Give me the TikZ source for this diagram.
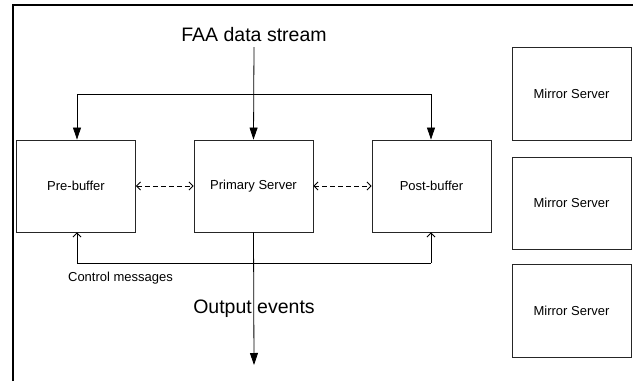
\documentclass[tikz,border=0pt]{standalone}
\usepackage{fontspec}
\setmainfont{Liberation Sans}
\usetikzlibrary{arrows.meta}
\tikzset{
  box/.style={draw=black!85, line width=0.9pt, minimum width=119pt, minimum height=92pt,
    inner sep=0pt, font=\fontsize{13}{15}\selectfont},
  bigtext/.style={font=\fontsize{19.5}{22}\selectfont, inner sep=0pt},
  smalltext/.style={font=\fontsize{13}{15}\selectfont, inner sep=0pt},
  feed/.style={line width=0.8pt, -{Triangle[length=12pt,width=8pt]}},
  ctrl/.style={line width=0.8pt, -{Straight Barb[length=4pt,width=8pt]}},
  peer/.style={line width=0.8pt, dash pattern=on 5pt off 3pt,
    {Straight Barb[length=4pt,width=8pt]}-{Straight Barb[length=4pt,width=8pt]}}
}
\begin{document}
\begin{tikzpicture}[x=1pt,y=-1pt]
  \useasboundingbox (0,0) rectangle (633,381);
  \fill[white] (0,0) rectangle (633,381);
  % outer frame (top and left edges)
  \draw[line width=2pt] (13,381) -- (13,5) -- (633,5);

  % main pipeline boxes
  \node[box] (pre)  at (76,186)  {Pre-buffer};
  \node[box] (prim) at (253.5,186) {Primary Server};
  \node[box] (post) at (431.5,186) {Post-buffer};

  % mirror servers
  \node[box, minimum height=93pt] (m1) at (571.5,93.5)  {Mirror Server};
  \node[box, minimum height=92pt] (m2) at (571.5,203)   {Mirror Server};
  \node[box, minimum height=93pt] (m3) at (571.5,310.5) {Mirror Server};

  % labels
  \node[bigtext] (faa) at (254,35) {FAA data stream};
  \node[bigtext] (out) at (254,309) {Output events};
  \node[smalltext] (cm) at (120.5,278) {Control messages};

  % input stream into the primary server
  \coordinate (faaend) at (254,47);
  \draw[feed] (faaend) -- (prim.north);

  % distribution line to the buffers
  \coordinate (tl) at (77,94);
  \coordinate (tr) at (431,94);
  \draw[line width=0.8pt] (tl) -- (tr);
  \draw[feed] (tl) -- (tl |- pre.north);
  \draw[feed] (tr) -- (tr |- post.north);

  % peer links between servers
  \draw[peer] (pre.east) -- (prim.west);
  \draw[peer] (prim.east) -- (post.west);

  % control message loop
  \coordinate (bl) at (77,263);
  \coordinate (br) at (431,263);
  \draw[line width=0.8pt] (bl) -- (br);
  \draw[ctrl] (bl) -- (bl |- pre.south);
  \draw[ctrl] (br) -- (br |- post.south);

  % output events
  \coordinate (outend) at (254,365);
  \draw[feed] (prim.south) -- (outend);
\end{tikzpicture}
\end{document}
